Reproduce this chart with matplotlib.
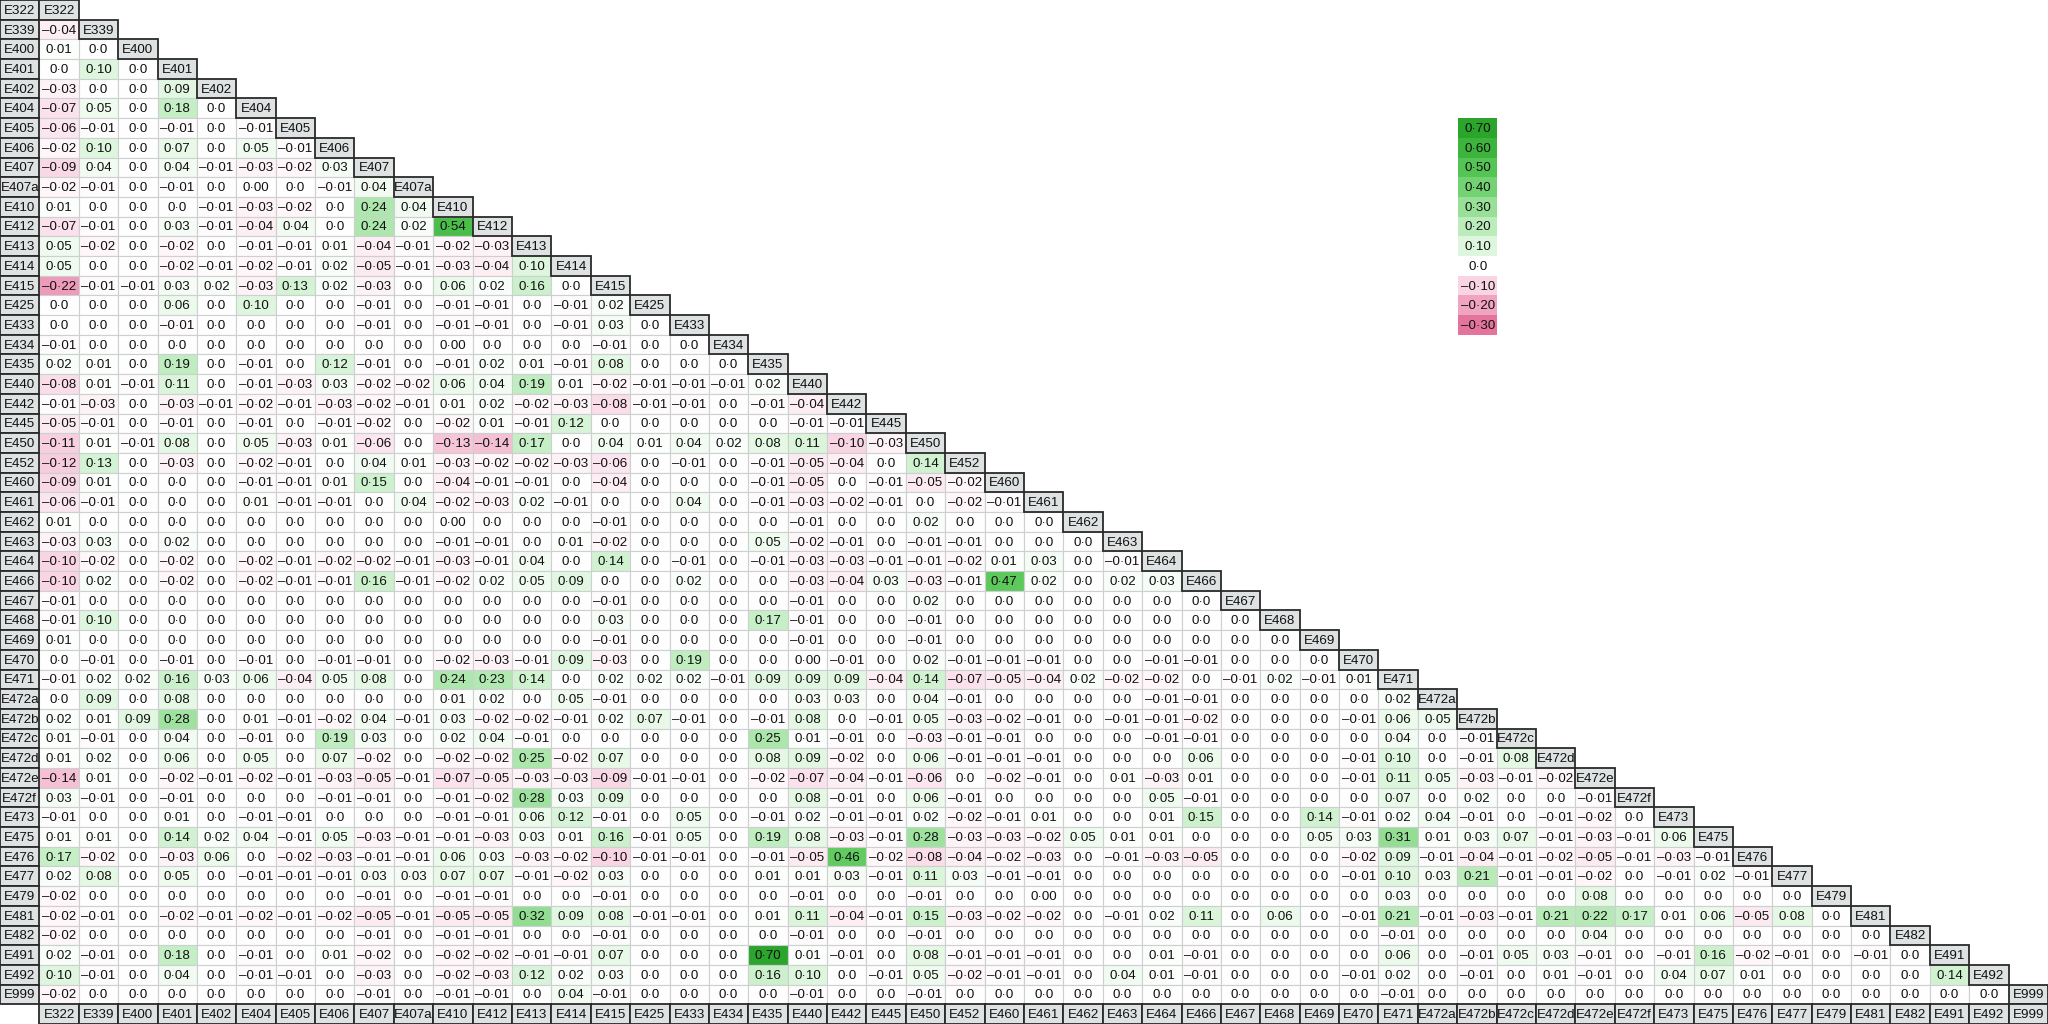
import matplotlib
matplotlib.use("Agg")
import matplotlib.pyplot as plt
from matplotlib.patches import Rectangle
from matplotlib.colors import LinearSegmentedColormap, Normalize

variables = ['E322', 'E339', 'E400', 'E401', 'E402', 'E404', 'E405', 'E406', 'E407', 'E407a',
             'E410', 'E412', 'E413', 'E414', 'E415', 'E425', 'E433', 'E434', 'E435', 'E440',
             'E442', 'E445', 'E450', 'E452', 'E460', 'E461', 'E462', 'E463', 'E464', 'E466',
             'E467', 'E468', 'E469', 'E470', 'E471', 'E472a', 'E472b', 'E472c', 'E472d', 'E472e',
             'E472f', 'E473', 'E475', 'E476', 'E477', 'E479', 'E481', 'E482', 'E491', 'E492', 'E999']

# lower-triangle correlations: each row lists values against the preceding variables
# (0.001 marks a value printed as "0.00", i.e. non-zero but rounding to zero)
r_E322 = []
r_E339 = [-0.04]
r_E400 = [0.01, 0.0]
r_E401 = [0.0, 0.10, 0.0]
r_E402 = [-0.03, 0.0, 0.0, 0.09]
r_E404 = [-0.07, 0.05, 0.0, 0.18, 0.0]
r_E405 = [-0.06, -0.01, 0.0, -0.01, 0.0, -0.01]
r_E406 = [-0.02, 0.10, 0.0, 0.07, 0.0, 0.05, -0.01]
r_E407 = [-0.09, 0.04, 0.0, 0.04, -0.01, -0.03, -0.02, 0.03]
r_E407a = [-0.02, -0.01, 0.0, -0.01, 0.0, 0.001, 0.0, -0.01, 0.04]
r_E410 = [0.01, 0.0, 0.0, 0.0, -0.01, -0.03, -0.02, 0.0, 0.24, 0.04]
r_E412 = [-0.07, -0.01, 0.0, 0.03, -0.01, -0.04, 0.04, 0.0, 0.24, 0.02, 0.54]
r_E413 = [0.05, -0.02, 0.0, -0.02, 0.0, -0.01, -0.01, 0.01, -0.04, -0.01, -0.02, -0.03]
r_E414 = [0.05, 0.0, 0.0, -0.02, -0.01, -0.02, -0.01, 0.02, -0.05, -0.01, -0.03, -0.04, 0.10]
r_E415 = [-0.22, -0.01, -0.01, 0.03, 0.02, -0.03, 0.13, 0.02, -0.03, 0.0, 0.06, 0.02, 0.16, 0.0]
r_E425 = [0.0, 0.0, 0.0, 0.06, 0.0, 0.10, 0.0, 0.0, -0.01, 0.0, -0.01, -0.01, 0.0, -0.01, 0.02]
r_E433 = [0.0, 0.0, 0.0, -0.01, 0.0, 0.0, 0.0, 0.0, -0.01, 0.0, -0.01, -0.01, 0.0, -0.01, 0.03, 0.0]
r_E434 = [-0.01, 0.0, 0.0, 0.0, 0.0, 0.0, 0.0, 0.0, 0.0, 0.0, 0.001, 0.0, 0.0, 0.0, -0.01, 0.0, 0.0]
r_E435 = [0.02, 0.01, 0.0, 0.19, 0.0, -0.01, 0.0, 0.12, -0.01, 0.0, -0.01, 0.02, 0.01, -0.01, 0.08,
          0.0, 0.0, 0.0]
r_E440 = [-0.08, 0.01, -0.01, 0.11, 0.0, -0.01, -0.03, 0.03, -0.02, -0.02, 0.06, 0.04, 0.19, 0.01,
          -0.02, -0.01, -0.01, -0.01, 0.02]
r_E442 = [-0.01, -0.03, 0.0, -0.03, -0.01, -0.02, -0.01, -0.03, -0.02, -0.01, 0.01, 0.02, -0.02,
          -0.03, -0.08, -0.01, -0.01, 0.0, -0.01, -0.04]
r_E445 = [-0.05, -0.01, 0.0, -0.01, 0.0, -0.01, 0.0, -0.01, -0.02, 0.0, -0.02, 0.01, -0.01, 0.12,
          0.0, 0.0, 0.0, 0.0, 0.0, -0.01, -0.01]
r_E450 = [-0.11, 0.01, -0.01, 0.08, 0.0, 0.05, -0.03, 0.01, -0.06, 0.0, -0.13, -0.14, 0.17, 0.0,
          0.04, 0.01, 0.04, 0.02, 0.08, 0.11, -0.10, -0.03]
r_E452 = [-0.12, 0.13, 0.0, -0.03, 0.0, -0.02, -0.01, 0.0, 0.04, 0.01, -0.03, -0.02, -0.02, -0.03,
          -0.06, 0.0, -0.01, 0.0, -0.01, -0.05, -0.04, 0.0, 0.14]
r_E460 = [-0.09, 0.01, 0.0, 0.0, 0.0, -0.01, -0.01, 0.01, 0.15, 0.0, -0.04, -0.01, -0.01, 0.0,
          -0.04, 0.0, 0.0, 0.0, -0.01, -0.05, 0.0, -0.01, -0.05, -0.02]
r_E461 = [-0.06, -0.01, 0.0, 0.0, 0.0, 0.01, -0.01, -0.01, 0.0, 0.04, -0.02, -0.03, 0.02, -0.01,
          0.0, 0.0, 0.04, 0.0, -0.01, -0.03, -0.02, -0.01, 0.0, -0.02, -0.01]
r_E462 = [0.01, 0.0, 0.0, 0.0, 0.0, 0.0, 0.0, 0.0, 0.0, 0.0, 0.001, 0.0, 0.0, 0.0, -0.01, 0.0,
          0.0, 0.0, 0.0, -0.01, 0.0, 0.0, 0.02, 0.0, 0.0, 0.0]
r_E463 = [-0.03, 0.03, 0.0, 0.02, 0.0, 0.0, 0.0, 0.0, 0.0, 0.0, -0.01, -0.01, 0.0, 0.01, -0.02,
          0.0, 0.0, 0.0, 0.05, -0.02, -0.01, 0.0, -0.01, -0.01, 0.0, 0.0, 0.0]
r_E464 = [-0.10, -0.02, 0.0, -0.02, 0.0, -0.02, -0.01, -0.02, -0.02, -0.01, -0.03, -0.01, 0.04,
          0.0, 0.14, 0.0, -0.01, 0.0, -0.01, -0.03, -0.03, -0.01, -0.01, -0.02, 0.01, 0.03, 0.0,
          -0.01]
r_E466 = [-0.10, 0.02, 0.0, -0.02, 0.0, -0.02, -0.01, -0.01, 0.16, -0.01, -0.02, 0.02, 0.05, 0.09,
          0.0, 0.0, 0.02, 0.0, 0.0, -0.03, -0.04, 0.03, -0.03, -0.01, 0.47, 0.02, 0.0, 0.02, 0.03]
r_E467 = [-0.01, 0.0, 0.0, 0.0, 0.0, 0.0, 0.0, 0.0, 0.0, 0.0, 0.0, 0.0, 0.0, 0.0, -0.01, 0.0,
          0.0, 0.0, 0.0, -0.01, 0.0, 0.0, 0.02, 0.0, 0.0, 0.0, 0.0, 0.0, 0.0, 0.0]
r_E468 = [-0.01, 0.10, 0.0, 0.0, 0.0, 0.0, 0.0, 0.0, 0.0, 0.0, 0.0, 0.0, 0.0, 0.0, 0.03, 0.0,
          0.0, 0.0, 0.17, -0.01, 0.0, 0.0, -0.01, 0.0, 0.0, 0.0, 0.0, 0.0, 0.0, 0.0, 0.0]
r_E469 = [0.01, 0.0, 0.0, 0.0, 0.0, 0.0, 0.0, 0.0, 0.0, 0.0, 0.0, 0.0, 0.0, 0.0, -0.01, 0.0,
          0.0, 0.0, 0.0, -0.01, 0.0, 0.0, -0.01, 0.0, 0.0, 0.0, 0.0, 0.0, 0.0, 0.0, 0.0, 0.0]
r_E470 = [0.0, -0.01, 0.0, -0.01, 0.0, -0.01, 0.0, -0.01, -0.01, 0.0, -0.02, -0.03, -0.01, 0.09,
          -0.03, 0.0, 0.19, 0.0, 0.0, 0.001, -0.01, 0.0, 0.02, -0.01, -0.01, -0.01, 0.0, 0.0,
          -0.01, -0.01, 0.0, 0.0, 0.0]
r_E471 = [-0.01, 0.02, 0.02, 0.16, 0.03, 0.06, -0.04, 0.05, 0.08, 0.0, 0.24, 0.23, 0.14, 0.0,
          0.02, 0.02, 0.02, -0.01, 0.09, 0.09, 0.09, -0.04, 0.14, -0.07, -0.05, -0.04, 0.02,
          -0.02, -0.02, 0.0, -0.01, 0.02, -0.01, 0.01]
r_E472a = [0.0, 0.09, 0.0, 0.08, 0.0, 0.0, 0.0, 0.0, 0.0, 0.0, 0.01, 0.02, 0.0, 0.05, -0.01, 0.0,
           0.0, 0.0, 0.0, 0.03, 0.03, 0.0, 0.04, -0.01, 0.0, 0.0, 0.0, 0.0, -0.01, -0.01, 0.0,
           0.0, 0.0, 0.0, 0.02]
r_E472b = [0.02, 0.01, 0.09, 0.28, 0.0, 0.01, -0.01, -0.02, 0.04, -0.01, 0.03, -0.02, -0.02,
           -0.01, 0.02, 0.07, -0.01, 0.0, -0.01, 0.08, 0.0, -0.01, 0.05, -0.03, -0.02, -0.01, 0.0,
           -0.01, -0.01, -0.02, 0.0, 0.0, 0.0, -0.01, 0.06, 0.05]
r_E472c = [0.01, -0.01, 0.0, 0.04, 0.0, -0.01, 0.0, 0.19, 0.03, 0.0, 0.02, 0.04, -0.01, 0.0, 0.0,
           0.0, 0.0, 0.0, 0.25, 0.01, -0.01, 0.0, -0.03, -0.01, -0.01, 0.0, 0.0, 0.0, -0.01, -0.01,
           0.0, 0.0, 0.0, 0.0, 0.04, 0.0, -0.01]
r_E472d = [0.01, 0.02, 0.0, 0.06, 0.0, 0.05, 0.0, 0.07, -0.02, 0.0, -0.02, -0.02, 0.25, -0.02,
           0.07, 0.0, 0.0, 0.0, 0.08, 0.09, -0.02, 0.0, 0.06, -0.01, -0.01, -0.01, 0.0, 0.0, 0.0,
           0.06, 0.0, 0.0, 0.0, -0.01, 0.10, 0.0, -0.01, 0.08]
r_E472e = [-0.14, 0.01, 0.0, -0.02, -0.01, -0.02, -0.01, -0.03, -0.05, -0.01, -0.07, -0.05, -0.03,
           -0.03, -0.09, -0.01, -0.01, 0.0, -0.02, -0.07, -0.04, -0.01, -0.06, 0.0, -0.02, -0.01,
           0.0, 0.01, -0.03, 0.01, 0.0, 0.0, 0.0, -0.01, 0.11, 0.05, -0.03, -0.01, -0.02]
r_E472f = [0.03, -0.01, 0.0, -0.01, 0.0, 0.0, 0.0, -0.01, -0.01, 0.0, -0.01, -0.02, 0.28, 0.03,
           0.09, 0.0, 0.0, 0.0, 0.0, 0.08, -0.01, 0.0, 0.06, -0.01, 0.0, 0.0, 0.0, 0.0, 0.05,
           -0.01, 0.0, 0.0, 0.0, 0.0, 0.07, 0.0, 0.02, 0.0, 0.0, -0.01]
r_E473 = [-0.01, 0.0, 0.0, 0.01, 0.0, -0.01, -0.01, 0.0, 0.0, 0.0, -0.01, -0.01, 0.06, 0.12,
          -0.01, 0.0, 0.05, 0.0, -0.01, 0.02, -0.01, -0.01, 0.02, -0.02, -0.01, 0.01, 0.0, 0.0,
          0.01, 0.15, 0.0, 0.0, 0.14, -0.01, 0.02, 0.04, -0.01, 0.0, -0.01, -0.02, 0.0]
r_E475 = [0.01, 0.01, 0.0, 0.14, 0.02, 0.04, -0.01, 0.05, -0.03, -0.01, -0.01, -0.03, 0.03, 0.01,
          0.16, -0.01, 0.05, 0.0, 0.19, 0.08, -0.03, -0.01, 0.28, -0.03, -0.03, -0.02, 0.05, 0.01,
          0.01, 0.0, 0.0, 0.0, 0.05, 0.03, 0.31, 0.01, 0.03, 0.07, -0.01, -0.03, -0.01, 0.06]
r_E476 = [0.17, -0.02, 0.0, -0.03, 0.06, 0.0, -0.02, -0.03, -0.01, -0.01, 0.06, 0.03, -0.03,
          -0.02, -0.10, -0.01, -0.01, 0.0, -0.01, -0.05, 0.46, -0.02, -0.08, -0.04, -0.02, -0.03,
          0.0, -0.01, -0.03, -0.05, 0.0, 0.0, 0.0, -0.02, 0.09, -0.01, -0.04, -0.01, -0.02, -0.05,
          -0.01, -0.03, -0.01]
r_E477 = [0.02, 0.08, 0.0, 0.05, 0.0, -0.01, -0.01, -0.01, 0.03, 0.03, 0.07, 0.07, -0.01, -0.02,
          0.03, 0.0, 0.0, 0.0, 0.01, 0.01, 0.03, -0.01, 0.11, 0.03, -0.01, -0.01, 0.0, 0.0, 0.0,
          0.0, 0.0, 0.0, 0.0, -0.01, 0.10, 0.03, 0.21, -0.01, -0.01, -0.02, 0.0, -0.01, 0.02,
          -0.01]
r_E479 = [-0.02, 0.0, 0.0, 0.0, 0.0, 0.0, 0.0, 0.0, -0.01, 0.0, -0.01, -0.01, 0.0, 0.0, -0.01,
          0.0, 0.0, 0.0, 0.0, -0.01, 0.0, 0.0, -0.01, 0.0, 0.0, 0.001, 0.0, 0.0, 0.0, 0.0, 0.0,
          0.0, 0.0, 0.0, 0.03, 0.0, 0.0, 0.0, 0.0, 0.08, 0.0, 0.0, 0.0, 0.0, 0.0]
r_E481 = [-0.02, -0.01, 0.0, -0.02, -0.01, -0.02, -0.01, -0.02, -0.05, -0.01, -0.05, -0.05, 0.32,
          0.09, 0.08, -0.01, -0.01, 0.0, 0.01, 0.11, -0.04, -0.01, 0.15, -0.03, -0.02, -0.02, 0.0,
          -0.01, 0.02, 0.11, 0.0, 0.06, 0.0, -0.01, 0.21, -0.01, -0.03, -0.01, 0.21, 0.22, 0.17,
          0.01, 0.06, -0.05, 0.08, 0.0]
r_E482 = [-0.02, 0.0, 0.0, 0.0, 0.0, 0.0, 0.0, 0.0, -0.01, 0.0, -0.01, -0.01, 0.0, 0.0, -0.01,
          0.0, 0.0, 0.0, 0.0, -0.01, 0.0, 0.0, -0.01, 0.0, 0.0, 0.0, 0.0, 0.0, 0.0, 0.0, 0.0, 0.0,
          0.0, 0.0, -0.01, 0.0, 0.0, 0.0, 0.0, 0.04, 0.0, 0.0, 0.0, 0.0, 0.0, 0.0, 0.0]
r_E491 = [0.02, -0.01, 0.0, 0.18, 0.0, -0.01, 0.0, 0.01, -0.02, 0.0, -0.02, -0.02, -0.01, -0.01,
          0.07, 0.0, 0.0, 0.0, 0.70, 0.01, -0.01, 0.0, 0.08, -0.01, -0.01, -0.01, 0.0, 0.0, 0.01,
          -0.01, 0.0, 0.0, 0.0, 0.0, 0.06, 0.0, -0.01, 0.05, 0.03, -0.01, 0.0, -0.01, 0.16, -0.02,
          -0.01, 0.0, -0.01, 0.0]
r_E492 = [0.10, -0.01, 0.0, 0.04, 0.0, -0.01, -0.01, 0.0, -0.03, 0.0, -0.02, -0.03, 0.12, 0.02,
          0.03, 0.0, 0.0, 0.0, 0.16, 0.10, 0.0, -0.01, 0.05, -0.02, -0.01, -0.01, 0.0, 0.04, 0.01,
          -0.01, 0.0, 0.0, 0.0, -0.01, 0.02, 0.0, -0.01, 0.0, 0.01, -0.01, 0.0, 0.04, 0.07, 0.01,
          0.0, 0.0, 0.0, 0.0, 0.14]
r_E999 = [-0.02, 0.0, 0.0, 0.0, 0.0, 0.0, 0.0, 0.0, -0.01, 0.0, -0.01, -0.01, 0.0, 0.04, -0.01,
          0.0, 0.0, 0.0, 0.0, -0.01, 0.0, 0.0, -0.01, 0.0, 0.0, 0.0, 0.0, 0.0, 0.0, 0.0, 0.0, 0.0,
          0.0, 0.0, -0.01, 0.0, 0.0, 0.0, 0.0, 0.0, 0.0, 0.0, 0.0, 0.0, 0.0, 0.0, 0.0, 0.0, 0.0,
          0.0]

rows = [r_E322, r_E339, r_E400, r_E401, r_E402, r_E404, r_E405, r_E406, r_E407, r_E407a,
        r_E410, r_E412, r_E413, r_E414, r_E415, r_E425, r_E433, r_E434, r_E435, r_E440,
        r_E442, r_E445, r_E450, r_E452, r_E460, r_E461, r_E462, r_E463, r_E464, r_E466,
        r_E467, r_E468, r_E469, r_E470, r_E471, r_E472a, r_E472b, r_E472c, r_E472d, r_E472e,
        r_E472f, r_E473, r_E475, r_E476, r_E477, r_E479, r_E481, r_E482, r_E491, r_E492, r_E999]

legend_levels = [0.70, 0.60, 0.50, 0.40, 0.30, 0.20, 0.10, 0.0, -0.10, -0.20, -0.30]

for i, r in enumerate(rows):
    assert len(r) == i, (variables[i], len(r), i)

# ---------------- styling ----------------
stop_vals = [-0.30, -0.20, -0.10, 0.0, 0.10, 0.20, 0.30, 0.40, 0.50, 0.60, 0.70]
stop_cols = ['#e5749d', '#f0a5c1', '#f9d5e3', '#ffffff', '#def6de', '#bdecbd',
             '#98e098', '#74d374', '#54c554', '#3db53d', '#2ba52b']
vmin, vmax = stop_vals[0], stop_vals[-1]
cmap = LinearSegmentedColormap.from_list(
    'corr', [((v - vmin) / (vmax - vmin), c) for v, c in zip(stop_vals, stop_cols)])
norm = Normalize(vmin, vmax)

LABEL_BG = '#dfe2e2'
LABEL_EDGE = '#2a2a2a'
GRID = '#cdd0d0'
FONT = 'Liberation Sans'
FS = 9.6


def fmt(v):
    if v == 0:
        return '0\u00b70'
    s = f'{abs(v):.2f}'.replace('.', '\u00b7')
    return ('\u2013' + s) if v < 0 else s


n = len(variables)
fig = plt.figure(figsize=(20.48, 10.24), dpi=100)
ax = fig.add_axes([0, 0, 1, 1])
ax.set_xlim(0, n + 1)
ax.set_ylim(n + 1, 0)
ax.axis('off')

txt_kw = dict(ha='center', va='center', fontsize=FS, family=FONT, color='#111111')

# value cells
for i, r in enumerate(rows):
    for j, v in enumerate(r):
        x, y = j + 1, i
        ax.add_patch(Rectangle((x, y), 1, 1, facecolor=cmap(norm(v)),
                               edgecolor=GRID, lw=0.8, zorder=1))
        ax.text(x + 0.5, y + 0.55, fmt(v), zorder=5, **txt_kw)

# row labels, diagonal labels, bottom labels
for i, name in enumerate(variables):
    for (x, y) in [(0, i), (i + 1, i), (i + 1, n)]:
        ax.add_patch(Rectangle((x, y), 1, 1, facecolor=LABEL_BG,
                               edgecolor=LABEL_EDGE, lw=1.3, zorder=3))
        ax.text(x + 0.5, y + 0.55, name, zorder=5, **txt_kw)

# legend
lx = 37.02
for k, lv in enumerate(legend_levels):
    y = 6 + k
    if lv != 0:
        ax.add_patch(Rectangle((lx, y), 1, 1, facecolor=cmap(norm(lv)),
                               edgecolor='none', zorder=2))
    ax.text(lx + 0.5, y + 0.55, fmt(lv), zorder=5, **txt_kw)

fig.savefig('out.png', dpi=100, facecolor='white')
